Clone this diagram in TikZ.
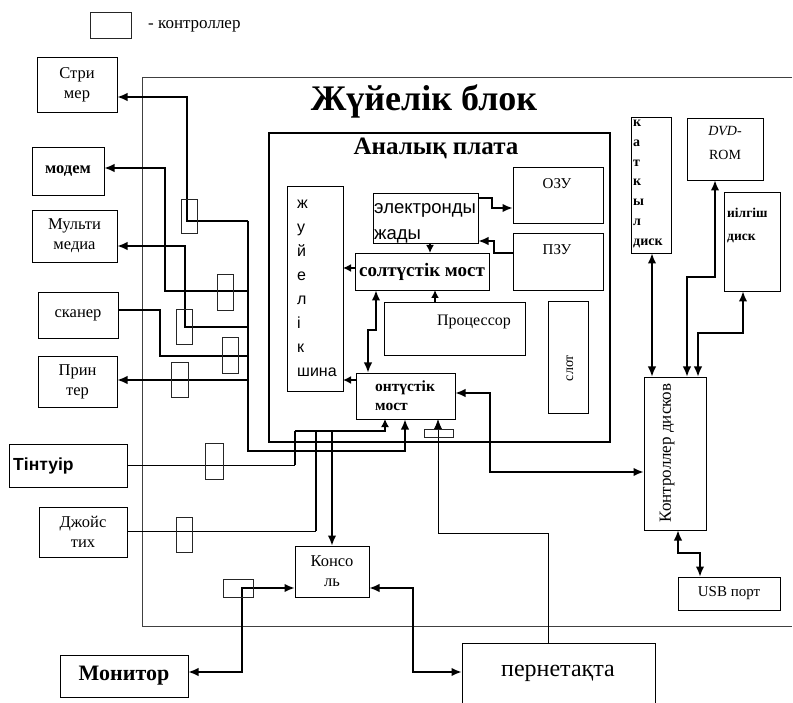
\documentclass[tikz,border=0pt]{standalone}
\usepackage{fontspec}
\setmainfont{Liberation Serif}
\newfontfamily\sansf{Liberation Sans}
\usetikzlibrary{arrows.meta}
\newcommand\fsz[2]{\fontsize{#1}{#2}\selectfont}
% \bx[options]{name}{x1}{y1}{x2}{y2}{text}
\newcommand\bx[7][]{\node[box,minimum width={(#5-#3)*1pt},minimum height={(#6-#4)*1pt},#1] (#2) at ({(#3+#5)/2},{(#4+#6)/2}) {#7};}
\newcommand\ctl[5]{\node[ctlbox,minimum width={(#4-#2)*1pt},minimum height={(#5-#3)*1pt}] (#1) at ({(#2+#4)/2},{(#3+#5)/2}) {};}
\begin{document}
\begin{tikzpicture}[x=1pt,y=-1pt,
  box/.style={draw=black,line width=0.8pt,inner sep=0pt,outer sep=0pt,align=center,font=\fsz{16.5}{20}},
  ctlbox/.style={draw=black!85,line width=0.6pt,inner sep=0pt,outer sep=0pt},
  thk/.style={line width=2.8pt},
  med/.style={line width=1.4pt},
  thn/.style={line width=0.7pt},
  shorttip/.style={>={Latex[length=8pt,width=8pt]}},
  >={Latex[length=10.5pt,width=8.5pt]},
  txt/.style={inner sep=0pt,font=\fsz{16}{19}}]
\useasboundingbox (0,0) rectangle (793,703);
\fill[white] (0,0) rectangle (793,703);

% legend
\ctl{leg}{90}{12}{131}{38}
\node[txt,anchor=west,font=\fsz{17}{20}] (legtxt) at (148,26) {- контроллер};

% system block
\draw[black!75,line width=0.6pt] (792,77) -- (142,77) -- (142,626) -- (792,626);
\node[inner sep=0pt,font=\bfseries\fsz{36}{40}] (title) at (424,101) {Жүйелік блок};

% motherboard
\bx[line width=1.8pt]{plata}{269}{133}{610}{442}{}
\node[inner sep=0pt,font=\bfseries\fsz{25}{28}] (ptitle) at (436,148) {Аналық плата};

% external devices (left)
\bx{strim}{37}{57}{117}{112}{Стри\\мер}
\bx[font=\bfseries\fsz{16.5}{20}]{modem}{32}{147}{104}{195}{модем}
\bx{mm}{32}{210}{117}{262}{Мульти\\медиа}
\bx{scan}{38}{292}{118}{338}{сканер}
\bx{print}{38}{356}{117}{407}{Прин\\тер}
\bx{tint}{9}{444}{127}{487}{}
\node[txt,anchor=west,font=\sansf\bfseries\fsz{17.5}{20}] (tinttxt) at (13,466) {Тінтуір};
\bx{joy}{39}{507}{127}{557}{Джойс\\тих}
\bx[font=\bfseries\fsz{22}{24}]{mon}{60}{655}{188}{697}{Монитор}
\bx{kons}{295}{546}{369}{597}{Консо\\ль}
\bx{pern}{462}{643}{655}{760}{}
\node[txt,font=\fsz{24}{28}] (perntxt) at (558,673) {пернетақта};

% drives (right)
\bx{hd}{631}{117}{671}{253}{}
\node[txt,anchor=west,align=left,font=\bfseries\fsz{14}{19.8}] (hdtxt) at (633,184) {к\\а\\т\\к\\ы\\л\\диск};
\bx{dvd}{687}{118}{763}{180}{}
\node[txt,align=center,font=\fsz{14}{24}] (dvdtxt) at (725,143) {\textit{DVD-}\\ROM};
\bx{fd}{724}{192}{780}{291}{}
\node[txt,anchor=west,align=left,font=\bfseries\fsz{13.5}{23}] (fdtxt) at (727,225) {иілгіш\\диск};
\bx{kd}{644}{377}{706}{530}{}
\node[txt,rotate=90,font=\fsz{17}{18}] (kdtxt) at (667,453) {Контроллер дисков};
\bx[font=\fsz{15}{18}]{usb}{678}{577}{780}{610}{USB порт}

% inside motherboard
\bx{bus}{287}{186}{343}{391}{}
\node[txt,align=left,anchor=west,font=\sansf\fsz{16}{23.9}] (bustxt) at (297,288.5) {ж\\у\\й\\е\\л\\і\\к\\шина};
\bx{mem}{373}{193}{478}{243}{}
\node[txt,anchor=west,align=left,font=\sansf\fsz{18.5}{26}] (memtxt) at (374,223) {электронды\\жады};
\bx{ozu}{513}{167}{603}{223}{}
\node[txt,font=\fsz{15}{18}] (ozutxt) at (557,184) {ОЗУ};
\bx{pzu}{513}{233}{603}{290}{}
\node[txt,font=\fsz{15}{18}] (pzutxt) at (557,250) {ПЗУ};
\bx[font=\bfseries\fsz{19}{20}]{nb}{355}{253}{489}{290}{солтүстік мост}
\bx{cpu}{384}{302}{525}{355}{}
\node[txt,font=\fsz{16}{18}] (cputxt) at (474,322) {Процессор};
\bx{slot}{548}{301}{588}{413}{}
\node[txt,rotate=90,font=\fsz{14}{16}] (slottxt) at (570,368) {слот};
\bx{sb}{356}{373}{455}{419}{}
\node[txt,anchor=west,align=left,font=\bfseries\fsz{15.5}{19}] (sbtxt) at (375,396) {онтүстік\\мост};

% trunk coordinates
\coordinate (tr1) at (248,221);
\coordinate (tr2) at (248,291);
\coordinate (tr3) at (248,327);
\coordinate (tr4) at (248,356);
\coordinate (tr5) at (248,380);
\coordinate (bl) at (295,431);

% left device connectors
\draw[thk,<-] (strim.east |- 0,97) -- (187,97) |- (tr1);
\draw[thk,<-] (modem.east |- 0,168) -- (165,168) |- (tr2);
\draw[thk,<-] (mm.east |- 0,246) -- (185,246) |- (tr3);
\draw[thk] (scan.east |- 0,310) -- (160,310) |- (tr4);
\draw[thk,<-] (print.east |- 0,380) -- (tr5);
\draw[thk,->] (tr1) -- (248,451) -- (405,451) -- (sb.south -| 405,0);

% mouse, joystick, console
\draw[thn] (tint.east |- 0,465) -- (295,465);
\draw[thk] (295,465) -- (bl);
\draw[med,shorttip,->] (bl) -- (385,431) -- (sb.south -| 385,0);
\draw[thn] (joy.east |- 0,531) -- (316,531);
\draw[thk] (316,531) -- (316,431);
\draw[thk,->] (332,431) -- (kons.north -| 332,0);
\draw[thk,<->] (kons.west |- 0,588) -- (242,588) |- (mon.east |- 0,672);
\draw[thk,<->] (kons.east |- 0,588) -- (413,588) |- (pern.west |- 0,672);
\draw[thn,->] (pern.north -| 548,0) -- (548,533) -| (sb.south -| 438,0);

% south bridge <-> disk controller
\draw[thk,<->] (sb.east |- 0,393) -- (490,393) |- (kd.west |- 0,472);
\draw[thk,<->] (hd.south -| 652,0) -- (kd.north -| 652,0);
\draw[thk,<->] (dvd.south -| 715,0) -- (715,277) -| (kd.north -| 687,0);
\draw[thk,<->] (fd.south -| 743,0) -- (743,333) -| (kd.north -| 698,0);
\draw[thk,<->] (kd.south -| 678,0) -- (678,553) -| (usb.north -| 700,0);

% inside motherboard connectors
\draw[thk,->] (mem.east |- 0,198) -- (492,198) |- (ozu.west |- 0,208);
\draw[thk,->] (pzu.west |- 0,253) -- (494,253) |- (mem.east |- 0,241);
\draw[thk,shorttip,->] (mem.south -| 430,0) -- (nb.north -| 430,0);
\draw[thk,shorttip,->] (nb.west |- 0,268) -- (bus.east |- 0,268);
\draw[thk,shorttip,->] (cpu.north -| 435,0) -- (nb.south -| 435,0);
\draw[thk,<->] (nb.south -| 376,0) -- (376,330) -| (sb.north -| 368,0);
\draw[thk,shorttip,->] (sb.west |- 0,380) -- (bus.east |- 0,380);

% controllers
\ctl{c1}{181}{199}{197}{233}
\ctl{c2}{217}{274}{233}{310}
\ctl{c3}{176}{309}{192}{344}
\ctl{c4}{222}{337}{238}{373}
\ctl{c5}{171}{362}{188}{397}
\ctl{c6}{205}{443}{223}{479}
\ctl{c7}{176}{517}{192}{552}
\ctl{c8}{223}{579}{253}{597}
\ctl{c9}{424}{429}{453}{437}
\end{tikzpicture}
\end{document}
